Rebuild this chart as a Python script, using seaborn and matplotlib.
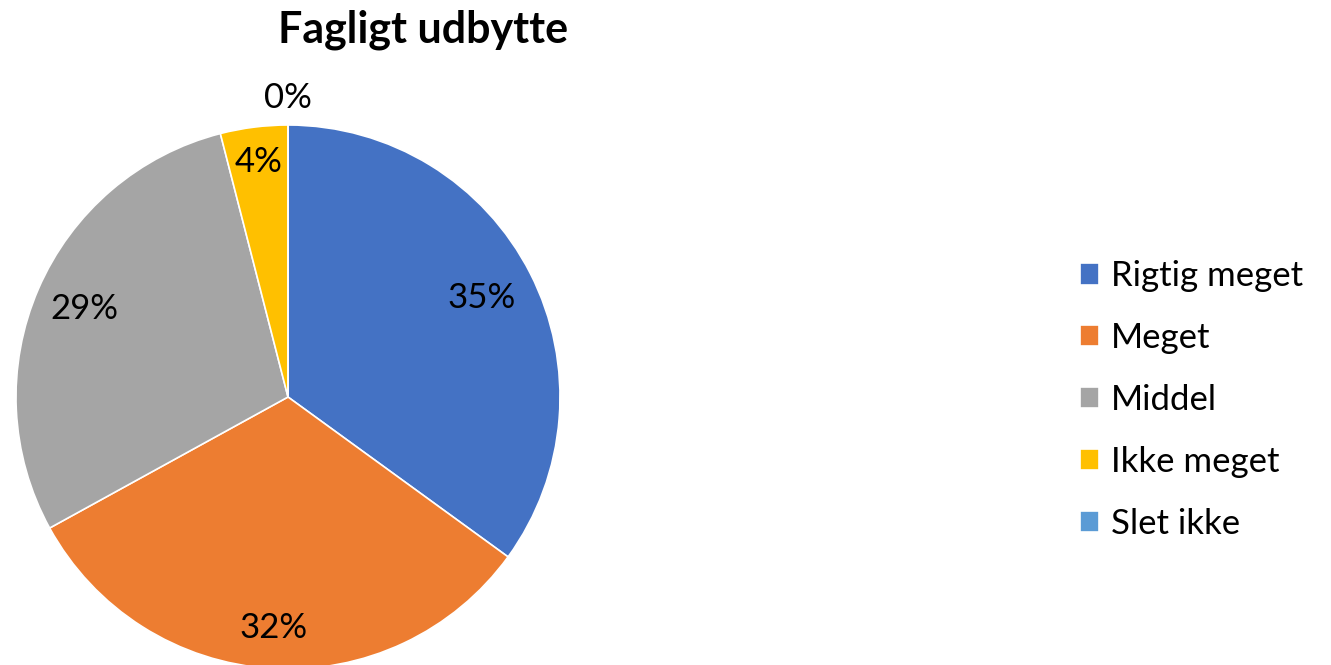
import matplotlib
matplotlib.use("Agg")
import matplotlib.pyplot as plt
import seaborn as sns
import numpy as np

categories = ["Rigtig meget", "Meget", "Middel", "Ikke meget", "Slet ikke"]
values = [35, 32, 29, 4, 0]
colors = ["#4472C4", "#ED7D31", "#A5A5A5", "#FFC000", "#5B9BD5"]
title = "Fagligt udbytte"

sns.set_theme(style="white")
plt.rcParams["font.family"] = ["Lato", "DejaVu Sans"]
plt.rcParams["text.color"] = "black"

W, H = 1331, 665
fig = plt.figure(figsize=(W / 100, H / 100), dpi=100)
cx, cy, r = 288, 397, 272
ax = fig.add_axes([(cx - r) / W, 1 - (cy + r) / H, 2 * r / W, 2 * r / H])

wedges, texts, autotexts = ax.pie(
    values, colors=colors, startangle=90, counterclock=False,
    autopct=lambda p: f"{p:.0f}%", pctdistance=0.82,
    wedgeprops=dict(edgecolor="white", linewidth=1.2),
    textprops=dict(fontsize=25, color="black"),
)
ax.set_xlim(-1, 1)
ax.set_ylim(-1, 1)
ax.set_aspect("equal")

# radial placement of each percentage label (best-fit style)
label_radius = [0.80, 0.85, 0.815, 0.87, 1.1]
for w, t, rr in zip(wedges, autotexts, label_radius):
    w.set_clip_on(False)
    t.set_clip_on(False)
    ang = np.deg2rad((w.theta1 + w.theta2) / 2)
    t.set_position((rr * np.cos(ang), rr * np.sin(ang)))

fig.text(423 / W, 1 - 30 / H, title, ha="center", va="center",
         fontsize=31, fontweight="bold", color="black")

fig.legend(wedges, categories, loc="center left",
           bbox_to_anchor=(1080 / W, 1 - 400 / H), frameon=False,
           fontsize=25, handlelength=0.56, handleheight=0.56,
           handletextpad=0.34, labelspacing=0.86, borderpad=0, borderaxespad=0,
           labelcolor="black")

fig.savefig("out.png", dpi=100)
